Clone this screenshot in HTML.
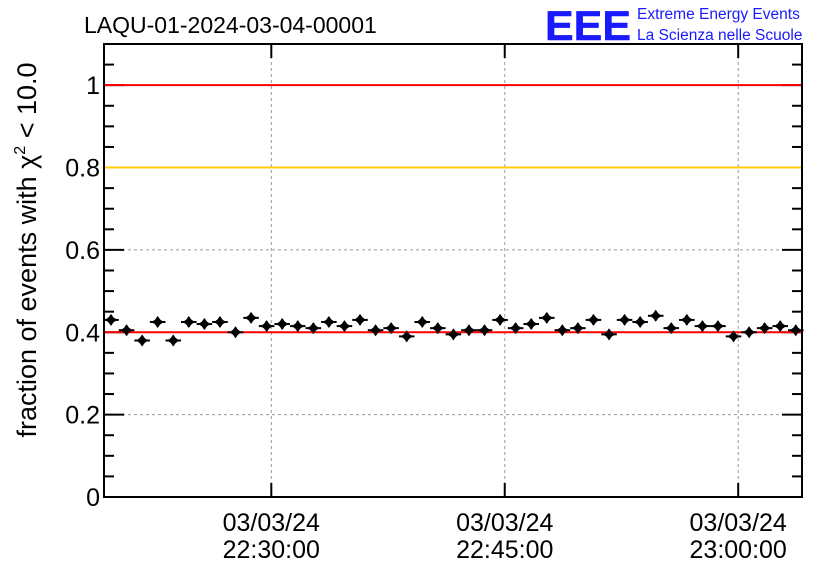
<!DOCTYPE html>
<html><head><meta charset="utf-8"><style>
body{margin:0;background:#fff;}
svg{display:block;font-family:"Liberation Sans",sans-serif;}
</style></head><body>
<svg id="chart" width="836" height="572" viewBox="0 0 836 572">
<text x="84" y="33" font-size="23">LAQU-01-2024-03-04-00001</text>
<g>
<text x="545" y="40" font-size="42" font-weight="bold" fill="#1a1aff" textLength="86" lengthAdjust="spacingAndGlyphs" stroke="#1a1aff" stroke-width="0.5">EEE</text>
<text x="637" y="19" font-size="15.5" fill="#1a1aff">Extreme Energy Events</text>
<text x="637" y="40" font-size="15.5" fill="#1a1aff">La Scienza nelle Scuole</text>
</g>
<text transform="translate(36,250) rotate(-90)" text-anchor="middle" font-size="27">fraction of events with χ<tspan dy="-11" font-size="16">2</tspan><tspan dy="11"> &lt; 10.0</tspan></text>
<g id="grid"></g><g id="axes"></g><g id="refs"></g><g id="marks"></g><g id="frame"></g>
</svg>
<script>
const values=[0.43,0.405,0.38,0.425,0.38,0.425,0.42,0.425,0.40,0.435,0.415,0.42,0.415,0.41,0.425,0.415,0.43,0.405,0.41,0.39,0.425,0.41,0.395,0.405,0.405,0.43,0.41,0.42,0.435,0.405,0.41,0.43,0.395,0.43,0.425,0.44,0.41,0.43,0.415,0.415,0.39,0.40,0.41,0.415,0.405];
const errors=[0.012,0.012,0.012,0.012,0.012,0.012,0.012,0.012,0.012,0.012,0.012,0.012,0.012,0.012,0.012,0.012,0.012,0.012,0.012,0.012,0.012,0.012,0.012,0.012,0.012,0.012,0.012,0.012,0.012,0.012,0.012,0.012,0.012,0.012,0.012,0.012,0.012,0.012,0.012,0.012,0.012,0.012,0.012,0.012,0.012];
const startMinute=-10.3;
const refLines=[{v:1,c:"#ff0000"},{v:0.8,c:"#ffcc00"},{v:0.4,c:"#ff0000"}];
const yTicks=[0,0.2,0.4,0.6,0.8,1];
const yTickLabels=["0","0.2","0.4","0.6","0.8","1"];
const xTicks=[0,15,30];
const xTickLabels=[["03/03/24","22:30:00"],["03/03/24","22:45:00"],["03/03/24","23:00:00"]];
const L=104,R=802,T=44,B=497;
const xmin=-10.75,xmax=34.1,ymin=0,ymax=1.1;
const X=m=>L+(m-xmin)/(xmax-xmin)*(R-L);
const Y=v=>B-(v-ymin)/(ymax-ymin)*(B-T);
const NS="http://www.w3.org/2000/svg";
function mk(p,t,a){const e=document.createElementNS(NS,t);for(const k in a)e.setAttribute(k,a[k]);document.getElementById(p).appendChild(e);return e;}
yTicks.forEach((v,i)=>{if(v>0&&v<1){const g=mk('grid','line',{x1:L,x2:R,y1:Y(v),y2:Y(v),stroke:'#999','stroke-dasharray':'3,3'});

}
const t=mk('axes','text',{x:L-4,y:Y(v)+9,'text-anchor':'end','font-size':'25'});t.textContent=yTickLabels[i];

});
xTicks.forEach((m,i)=>{const g=mk('grid','line',{x1:X(m),x2:X(m),y1:T,y2:B,stroke:'#999','stroke-dasharray':'3,3'});


mk('axes','line',{x1:X(m),x2:X(m),y1:B,y2:B-14,stroke:'#000','stroke-width':2});
mk('axes','line',{x1:X(m),x2:X(m),y1:T,y2:T+14,stroke:'#000','stroke-width':2});
xTickLabels[i].forEach((s,j)=>{const t=mk('axes','text',{x:X(m),y:531+j*27,'text-anchor':'middle','font-size':'25'});t.textContent=s;

});});
for(let k=0;k<=22;k++){const v=k*0.05;if(v>ymax)break;const len=(k%4===0)?20:10;
mk('axes','line',{x1:L,x2:L+len,y1:Y(v),y2:Y(v),stroke:'#000','stroke-width':2});
mk('axes','line',{x1:R,x2:R-len,y1:Y(v),y2:Y(v),stroke:'#000','stroke-width':2});}
refLines.forEach(r=>{const l=mk('refs','line',{x1:L,x2:R,y1:Y(r.v),y2:Y(r.v),stroke:r.c,'stroke-width':2});

});
values.forEach((v,i)=>{const m=startMinute+i,x=X(m),y=Y(v),hw=(X(m+0.5)-X(m));
const g=mk('marks','g',{});


const a=document.createElementNS(NS,'line');a.setAttribute('x1',x-hw);a.setAttribute('x2',x+hw);a.setAttribute('y1',y);a.setAttribute('y2',y);a.setAttribute('stroke','#000');a.setAttribute('stroke-width',2);g.appendChild(a);
const b=document.createElementNS(NS,'line');b.setAttribute('x1',x);b.setAttribute('x2',x);b.setAttribute('y1',Y(v+errors[i]));b.setAttribute('y2',Y(v-errors[i]));b.setAttribute('stroke','#000');b.setAttribute('stroke-width',2);g.appendChild(b);
const p=document.createElementNS(NS,'path');p.setAttribute('d',`M${x} ${y-6}L${x+2.5} ${y-2.5}L${x+6} ${y}L${x+2.5} ${y+2.5}L${x} ${y+6}L${x-2.5} ${y+2.5}L${x-6} ${y}L${x-2.5} ${y-2.5}Z`);p.setAttribute('fill','#000');g.appendChild(p);});
const f=mk('frame','rect',{x:L,y:T,width:R-L,height:B-T,fill:'none',stroke:'#000','stroke-width':2});


</script>
</body></html>
